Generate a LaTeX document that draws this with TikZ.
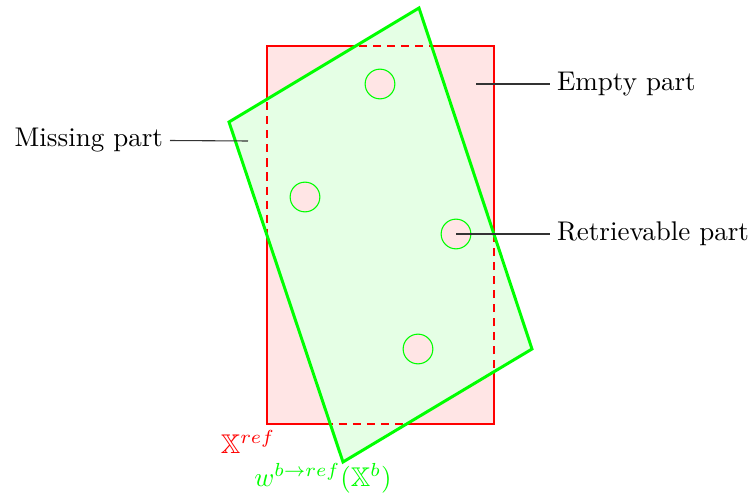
\documentclass[tikz,border=0pt]{standalone}
\usepackage{amssymb}
\usepackage{xcolor}
\usetikzlibrary{positioning}

\begin{document}
\begin{tikzpicture}[
  x=0.37pt, y=-0.37pt,
  refarea/.style={draw=red, line width=0.8pt, fill=red!10},
  refdash/.style={draw=red, line width=0.5pt, dash pattern=on 3pt off 2.2pt},
  warpfill/.style={fill=green!10},
  warpline/.style={draw=green, line width=1.1pt, line join=miter},
  hole/.style={circle, draw=green, line width=0.4pt, fill=red!10, inner sep=0pt, minimum size=11pt},
  tag/.style={inner sep=2.4pt},
  line/.style={draw=black!80, line width=0.4pt}
]
\useasboundingbox (0,0) rectangle (751,497);

% === REFERENCE FRAME ===
\coordinate (refNW) at (267,46);
\coordinate (refSE) at (494,424);
\path[refarea] (refNW) rectangle (refSE);

% === WARPED FRAME ===
\coordinate (wTop) at (419,8);
\coordinate (wRight) at (532,349);
\coordinate (wBottom) at (343,462);
\coordinate (wLeft) at (229,122);
\path[warpfill] (wTop) -- (wRight) -- (wBottom) -- (wLeft) -- cycle;
\path[refdash] (refNW) rectangle (refSE);
\path[warpline] (wTop) -- (wRight) -- (wBottom) -- (wLeft) -- cycle;

% === HOLES ===
\node[hole] (holeA) at (380,84) {};
\node[hole] (holeB) at (305,197) {};
\node[hole] (holeC) at (456,234) {};
\node[hole] (holeD) at (418,349) {};

% === LABELS ===
\coordinate (emptyPt) at (476,84);
\coordinate (missPt) at (248,141);
\node[tag, anchor=west] (empty) at (550,84) {Empty part};
\node[tag, anchor=east] (missing) at (170,140) {Missing part};
\node[tag, anchor=west] (retrieve) at (550,234) {Retrievable part};
\draw[line] (emptyPt) -- (empty);
\draw[line] (missing) -- (missPt);
\draw[line] (holeC.center) -- (retrieve);

\node[text=red] (xref) at (248,442) {$\mathbb{X}^{ref}$};
\node[text=green] (xwarp) at (323,478) {$w^{b\to ref}(\mathbb{X}^b)$};

\end{tikzpicture}
\end{document}
